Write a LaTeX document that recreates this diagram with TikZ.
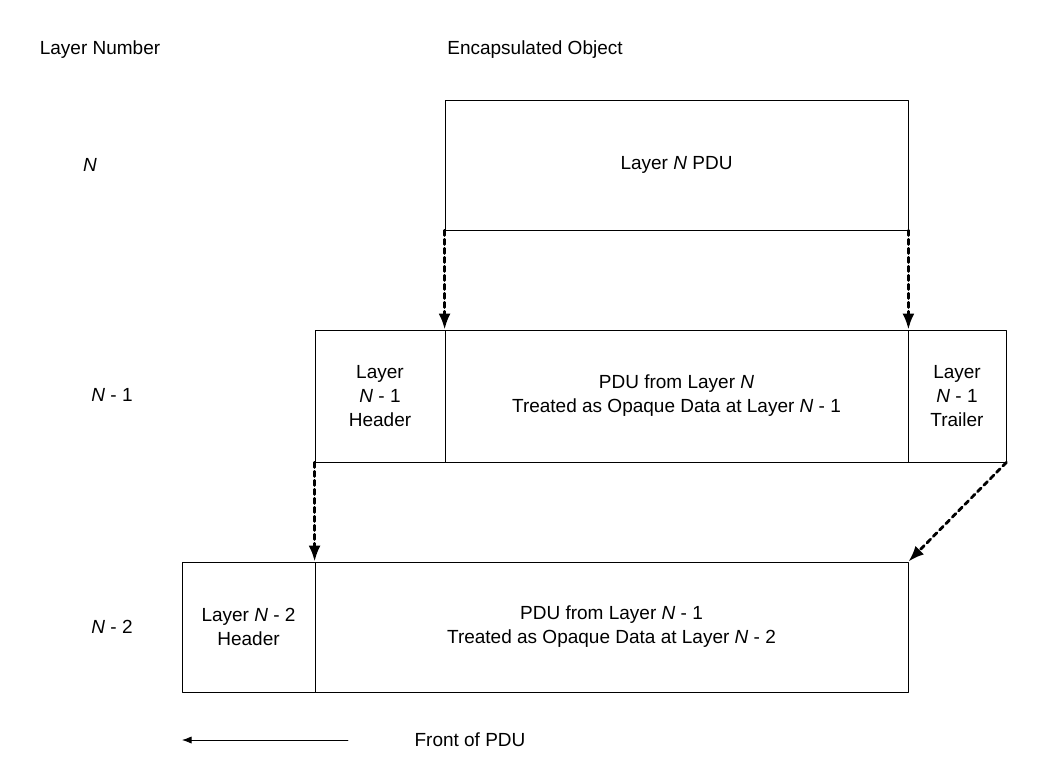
\documentclass[tikz,border=0pt]{standalone}
\usepackage{fontspec}
\setmainfont{Liberation Sans}
\usetikzlibrary{arrows.meta}
\begin{document}
\begin{tikzpicture}[
    x=0.5pt, y=-0.5pt,
    >=Latex,
    line cap=round,
    line join=round,
    cell/.style={draw, inner sep=0pt, align=center, font=\fontsize{9.5}{12}\selectfont},
    label/.style={font=\fontsize{9.5}{12}\selectfont},
    enc/.style={line width=1.4pt, dash pattern=on 2.5pt off 2pt, -{Latex[length=8pt,width=6pt]}}
]

\useasboundingbox (0,0) rectangle (1053,765);

\node[label] (laynum) at (100,50) {Layer Number};
\node[label] (encobj) at (535,50) {Encapsulated Object};
\node[label] (ln) at (90,165) {\textit{N}};
\node[label] (ln1) at (112,395) {\textit{N} - 1};
\node[label] (ln2) at (112,627) {\textit{N} - 2};

% layer N
\node[cell, minimum width=231.5pt, minimum height=65pt] (pduN) at (676.5,165) {Layer \textit{N} PDU};

% layer N-1
\node[cell, minimum width=65pt, minimum height=66pt] (hdr1) at (380,396) {Layer\\\textit{N} - 1\\Header};
\node[cell, minimum width=231.5pt, minimum height=66pt] (data1) at (676.5,396) {PDU from Layer \textit{N}\\Treated as Opaque Data at Layer \textit{N} - 1};
\node[cell, minimum width=49pt, minimum height=66pt] (trl1) at (957,396) {Layer\\\textit{N} - 1\\Trailer};

% layer N-2
\node[cell, minimum width=66.5pt, minimum height=65pt] (hdr2) at (248.5,627) {Layer \textit{N} - 2\\Header};
\node[cell, minimum width=296.5pt, minimum height=65pt] (data2) at (611.5,627) {PDU from Layer \textit{N} - 1\\Treated as Opaque Data at Layer \textit{N} - 2};

\draw[enc] (pduN.south west) -- (data1.north west);
\draw[enc] (pduN.south east) -- (data1.north east);
\draw[enc] (hdr1.south west) -- (data2.north west);
\draw[enc] (trl1.south east) -- (data2.north east);

% front arrow
\coordinate (ftail) at (348,740);
\coordinate (fhead) at (182,740);
\draw[->] (ftail) -- (fhead);
\node[label] (front) at (470,740) {Front of PDU};

\end{tikzpicture}
\end{document}
